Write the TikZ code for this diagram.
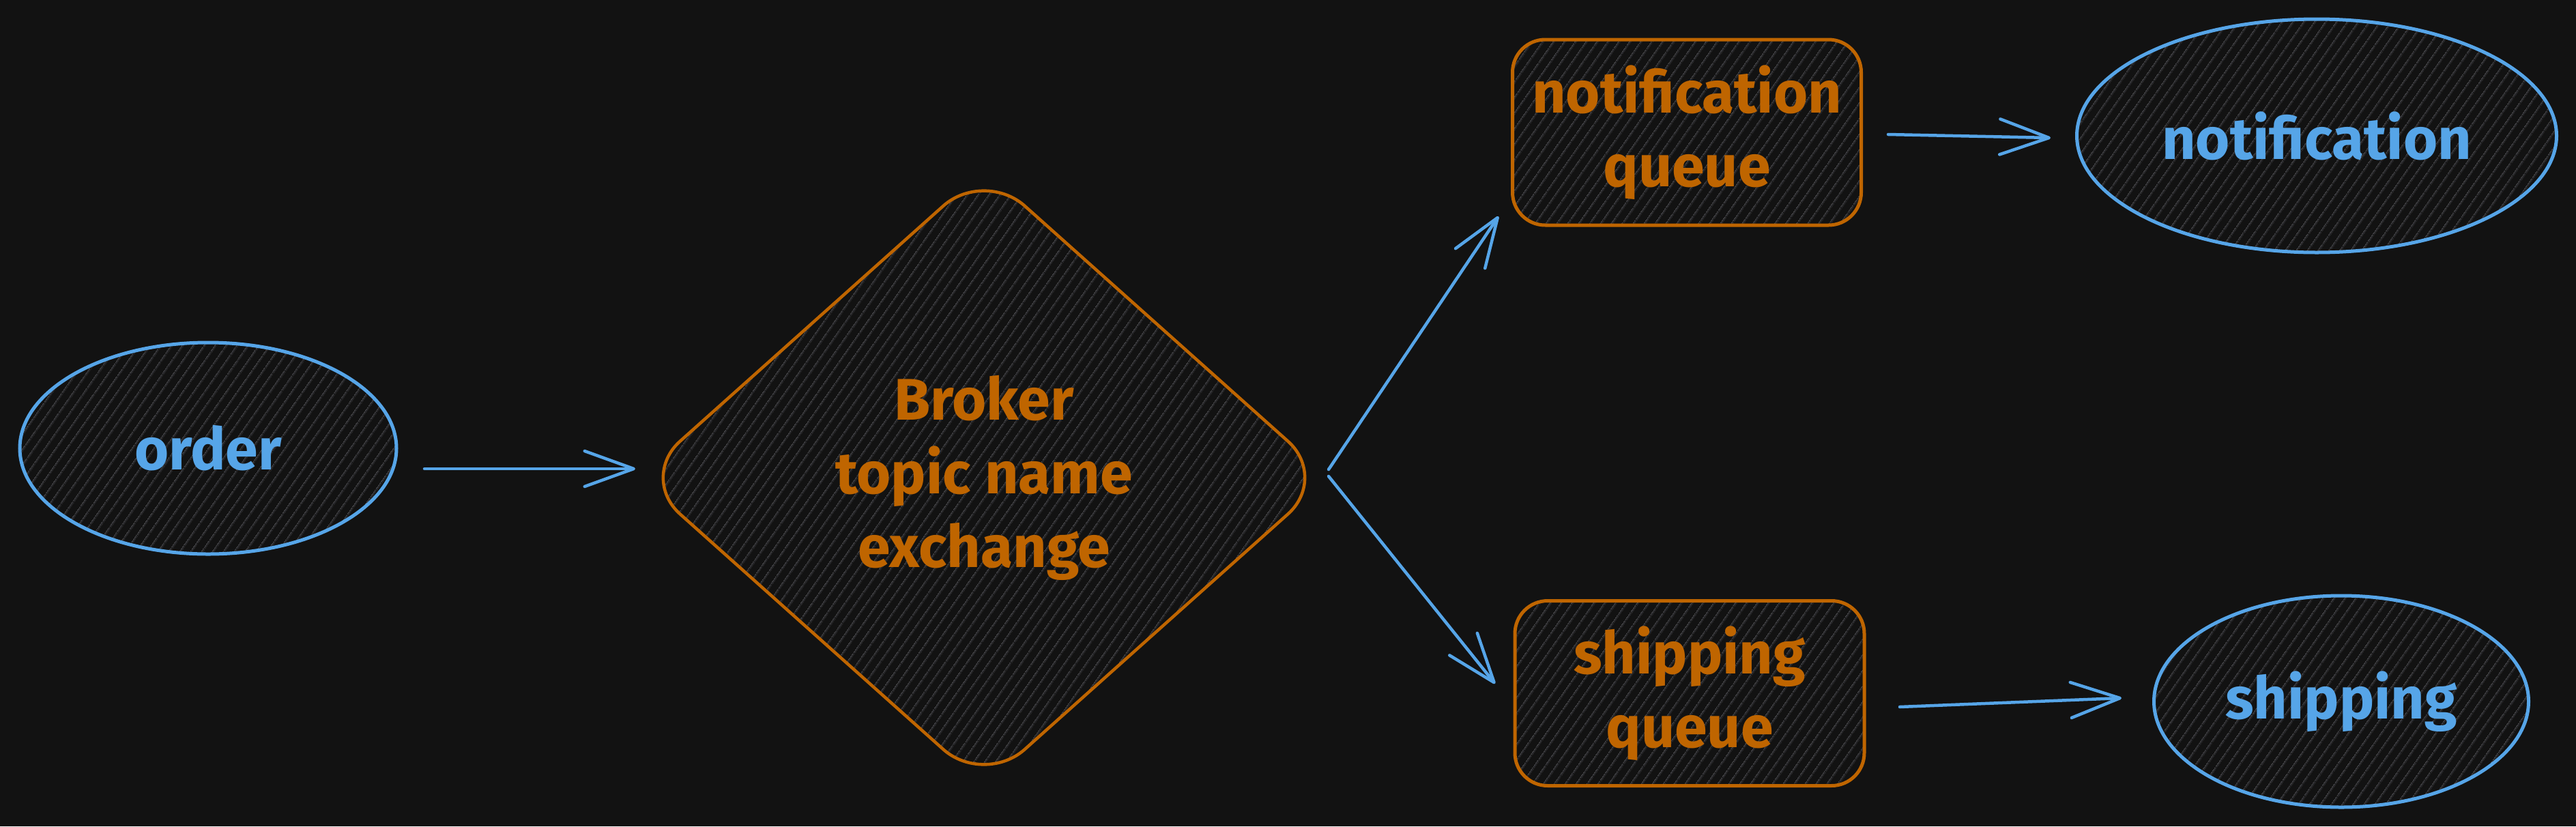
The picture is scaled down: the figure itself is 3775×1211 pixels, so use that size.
\documentclass[tikz,border=0pt]{standalone}
\usepackage{fontspec}
\setmainfont{Fira Sans}
\usetikzlibrary{shapes.geometric,arrows.meta,patterns.meta}
\definecolor{bg}{HTML}{121212}
\definecolor{eblue}{HTML}{56A5E8}
\definecolor{eorange}{HTML}{BF6500}
\definecolor{hatch}{HTML}{2C2C30}
\begin{document}
\begin{tikzpicture}[x=1pt,y=-1pt,
  hach/.style={pattern={Lines[angle=55,distance=13pt,line width=2pt]},pattern color=hatch},
  lbl/.style={font=\fontsize{86}{108}\selectfont\bfseries},
  actor/.style={ellipse, draw=eblue, line width=5pt, text=eblue, inner sep=0pt, hach, lbl},
  queuebox/.style={rectangle, rounded corners=48pt, draw=eorange, line width=5pt, text=eorange, align=center, inner sep=0pt, hach, lbl},
  brokerbox/.style={diamond, rounded corners=80pt, draw=eorange, line width=4.5pt, text=eorange, align=center, inner sep=0pt, hach, lbl},
  flow/.style={draw=eblue, line width=4.5pt, line cap=round, -{Straight Barb[length=72pt,width=52pt,line width=4.5pt,round]}}
]
\fill[bg] (0,0) rectangle (3775,1211);
\useasboundingbox (0,0) rectangle (3775,1211);

\node[actor, minimum width=552pt, minimum height=310pt] (order) at (305,657) {order};
\node[brokerbox, minimum width=1012pt, minimum height=905pt] (broker) at (1442,700) {Broker\\topic name\\exchange};
\node[queuebox, minimum width=511pt, minimum height=272pt] (nq) at (2472,194) {notification\\queue};
\node[queuebox, minimum width=512pt, minimum height=271pt] (sq) at (2476,1016) {shipping\\queue};
\node[actor, minimum width=703pt, minimum height=342pt] (notif) at (3395,199) {notification};
\node[actor, minimum width=549pt, minimum height=310pt] (ship) at (3431,1028) {shipping};

\coordinate (o1) at (622,687);
\coordinate (o2) at (931,687);
\coordinate (b1) at (1947,688);
\coordinate (b2) at (2196,317);
\coordinate (b3) at (1947,698);
\coordinate (b4) at (2191,1002);
\coordinate (n1) at (2767,197);
\coordinate (n2) at (3005,202);
\coordinate (s1) at (2784,1036);
\coordinate (s2) at (3109,1023);

\draw[flow] (o1) -- (o2);
\draw[flow] (b1) -- (b2);
\draw[flow] (b3) -- (b4);
\draw[flow] (n1) -- (n2);
\draw[flow] (s1) -- (s2);
\end{tikzpicture}
\end{document}
